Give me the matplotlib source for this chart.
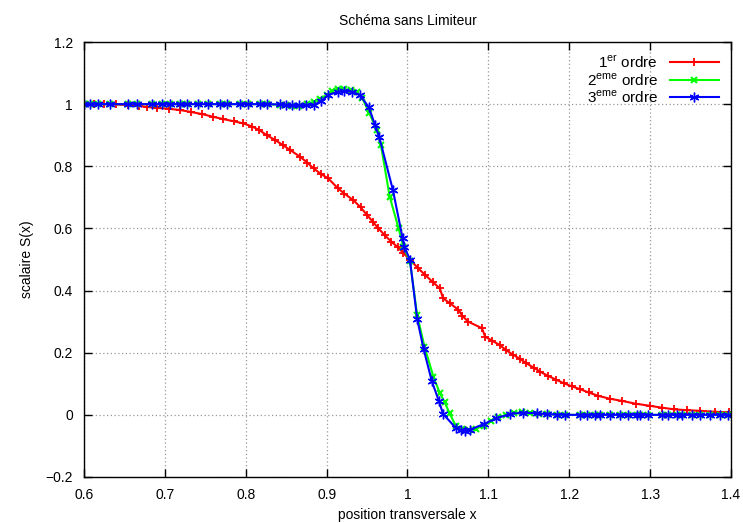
import numpy as np
import matplotlib
matplotlib.use('Agg')
import matplotlib.pyplot as plt

plt.rcParams['font.family'] = ['Liberation Sans', 'DejaVu Sans']
plt.rcParams['mathtext.fontset'] = 'custom'
plt.rcParams['mathtext.rm'] = 'Liberation Sans'

# schema du 1er ordre
x1 = [0.600, 0.612, 0.625, 0.640, 0.655, 0.668, 0.678, 0.690, 0.705, 0.719,
      0.732, 0.746, 0.760, 0.772, 0.785, 0.797, 0.808, 0.817, 0.826, 0.836,
      0.846, 0.855, 0.867, 0.876, 0.884, 0.893, 0.902, 0.914, 0.922, 0.933,
      0.942, 0.950, 0.957, 0.964, 0.972, 0.980, 0.988, 0.995, 1.003, 1.013,
      1.022, 1.031, 1.040, 1.044, 1.052, 1.063, 1.068, 1.075, 1.092, 1.096,
      1.105, 1.114, 1.122, 1.131, 1.139, 1.147, 1.156, 1.164, 1.174, 1.184,
      1.193, 1.203, 1.213, 1.224, 1.236, 1.250, 1.265, 1.282, 1.300, 1.315,
      1.329, 1.345, 1.362, 1.380, 1.397]
s1 = [1.000, 1.000, 1.000, 0.999, 0.997, 0.994, 0.991, 0.988, 0.985, 0.981,
      0.975, 0.968, 0.959, 0.952, 0.945, 0.938, 0.928, 0.916, 0.900, 0.885,
      0.868, 0.852, 0.831, 0.812, 0.793, 0.775, 0.761, 0.729, 0.712, 0.691,
      0.668, 0.643, 0.622, 0.600, 0.578, 0.557, 0.540, 0.520, 0.500, 0.472,
      0.450, 0.428, 0.407, 0.375, 0.360, 0.338, 0.318, 0.300, 0.279, 0.252,
      0.238, 0.225, 0.208, 0.193, 0.180, 0.166, 0.152, 0.139, 0.125, 0.113,
      0.102, 0.092, 0.083, 0.072, 0.061, 0.052, 0.045, 0.036, 0.029, 0.023,
      0.018, 0.015, 0.013, 0.010, 0.008]

# schema du 2eme ordre
x2 = [0.600, 0.607, 0.617, 0.632, 0.654, 0.665, 0.684, 0.696, 0.706, 0.719,
      0.727, 0.741, 0.753, 0.768, 0.777, 0.793, 0.803, 0.818, 0.826, 0.842,
      0.850, 0.857, 0.866, 0.876, 0.884, 0.892, 0.900, 0.907, 0.914, 0.922,
      0.930, 0.937, 0.944, 0.953, 0.962, 0.967, 0.978, 0.989, 0.995, 1.003,
      1.012, 1.021, 1.032, 1.040, 1.046, 1.052, 1.060, 1.068, 1.076, 1.085,
      1.094, 1.103, 1.112, 1.122, 1.132, 1.142, 1.152, 1.162, 1.172, 1.185,
      1.195, 1.213, 1.222, 1.232, 1.238, 1.250, 1.263, 1.273, 1.284, 1.288,
      1.297, 1.315, 1.322, 1.333, 1.339, 1.352, 1.362, 1.374, 1.386, 1.396]
s2 = [1.000, 1.000, 1.000, 1.000, 1.000, 1.000, 1.000, 1.000, 1.000, 1.000,
      1.000, 1.000, 1.000, 1.000, 1.000, 1.000, 1.000, 1.000, 1.000, 0.998,
      0.996, 0.995, 0.995, 0.999, 1.008, 1.018, 1.030, 1.042, 1.050, 1.048,
      1.045, 1.040, 1.020, 0.970, 0.916, 0.870, 0.702, 0.600, 0.540, 0.495,
      0.320, 0.220, 0.123, 0.070, 0.040, 0.005, -0.037, -0.046, -0.048, -0.044,
      -0.035, -0.020, -0.008, 0.000, 0.006, 0.008, 0.006, 0.004, 0.002, 0.001,
      0.000, 0.000, 0.000, 0.000, 0.000, 0.000, 0.000, 0.000, 0.000, 0.000,
      0.000, 0.000, 0.000, 0.000, 0.000, 0.000, 0.000, 0.000, 0.000, 0.000]

# schema du 3eme ordre
x3 = [0.600, 0.607, 0.617, 0.632, 0.654, 0.665, 0.684, 0.696, 0.706, 0.719,
      0.727, 0.741, 0.753, 0.768, 0.777, 0.793, 0.803, 0.818, 0.826, 0.842,
      0.850, 0.857, 0.866, 0.874, 0.884, 0.893, 0.902, 0.914, 0.922, 0.931,
      0.941, 0.952, 0.960, 0.965, 0.982, 0.994, 0.996, 1.003, 1.012, 1.020,
      1.030, 1.039, 1.044, 1.060, 1.066, 1.071, 1.077, 1.094, 1.110, 1.127,
      1.143, 1.160, 1.172, 1.185, 1.195, 1.213, 1.222, 1.232, 1.238, 1.250,
      1.263, 1.273, 1.284, 1.288, 1.297, 1.315, 1.322, 1.333, 1.339, 1.352,
      1.362, 1.374, 1.386, 1.396]
s3 = [1.000, 1.000, 1.000, 1.000, 1.000, 1.000, 1.000, 1.000, 1.000, 1.000,
      1.000, 1.000, 1.000, 1.000, 1.000, 1.000, 1.000, 1.000, 1.000, 0.999,
      0.998, 0.997, 0.996, 0.997, 0.997, 1.010, 1.029, 1.040, 1.042, 1.040,
      1.029, 0.991, 0.932, 0.895, 0.723, 0.568, 0.541, 0.500, 0.308, 0.211,
      0.109, 0.043, 0.003, -0.043, -0.050, -0.051, -0.048, -0.030, -0.011, 0.003,
      0.007, 0.005, 0.002, 0.001, 0.000, 0.000, 0.000, 0.000, 0.000, 0.000,
      0.000, 0.000, 0.000, 0.000, 0.000, 0.000, 0.000, 0.000, 0.000, 0.000,
      0.000, 0.000, 0.000, 0.000]

fig = plt.figure(figsize=(7.43, 5.23), dpi=100)
ax = fig.add_axes([84/743, 1 - 477/523, (731 - 84)/743, (477 - 42)/523])

ax.plot(x1, s1, color='#ff0000', lw=1.5, marker='+', ms=6, mew=1.3,
        label=r'1$^{\rm er}$ ordre')
ax.plot(x2, s2, color='#00ff00', lw=1.5, marker='x', ms=5, mew=1.5,
        label=r'2$^{\rm eme}$ ordre')
# asterisque style gnuplot (+ et x superposes)
ax.plot(x3, s3, color='#0000ff', lw=1.5, marker=(6, 2, 0), ms=7, mew=1.0,
        label=r'3$^{\rm eme}$ ordre')

ax.set_xlim(0.6, 1.4)
ax.set_ylim(-0.2, 1.2)
ax.set_xticks(np.arange(0.6, 1.41, 0.1))
ax.set_yticks(np.arange(-0.2, 1.21, 0.2))
ax.set_xticklabels(['0.6', '0.7', '0.8', '0.9', '1', '1.1', '1.2', '1.3', '1.4'])
ax.set_yticklabels(['\u22120.2', '0', '0.2', '0.4', '0.6', '0.8', '1', '1.2'])
ax.tick_params(direction='in', top=True, right=True, length=6, width=1,
               labelsize=10, pad=8)
ax.grid(True, color='#999999', linestyle=(0, (1, 2)), linewidth=0.9)
for sp in ax.spines.values():
    sp.set_linewidth(1.0)

ax.set_title('Schéma sans Limiteur', fontsize=10, pad=12)
ax.set_xlabel('position transversale x', fontsize=10, labelpad=4)
ax.set_ylabel('scalaire S(x)', fontsize=10, labelpad=8)

leg = ax.legend(loc='upper right', frameon=False, markerfirst=False,
                fontsize=11, handlelength=3.2, labelspacing=0.05,
                borderaxespad=0.4, handletextpad=0.8)
for t in leg.get_texts():
    t.set_ha('right')

fig.savefig('out.png', dpi=100)
